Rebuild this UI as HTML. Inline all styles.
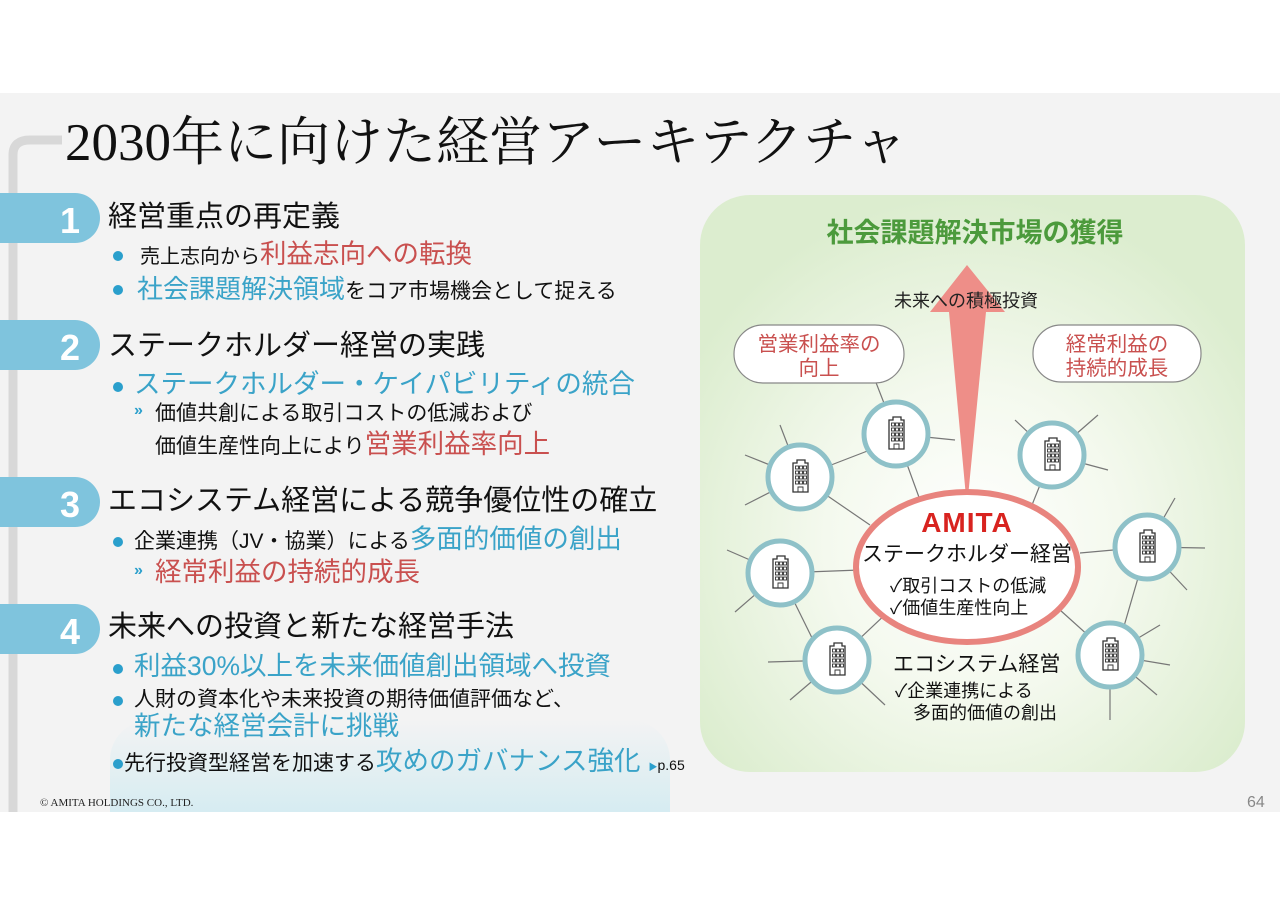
<!DOCTYPE html>
<html><head><meta charset="utf-8"><style>
body{margin:0;width:1280px;height:905px;background:#fff;position:relative;overflow:hidden;font-family:"Liberation Sans","Noto Sans CJK JP",sans-serif;}
.slide{position:absolute;left:0;top:93px;width:1280px;height:719px;background:#f3f3f3;}
.t{position:absolute;white-space:nowrap;line-height:1;}
.tab{position:absolute;left:0;width:100px;height:50px;background:#7fc4dd;border-radius:0 25px 25px 0;color:#fff;font-weight:bold;font-size:36px;}
.tab span{position:absolute;left:60px;top:7px;}
.h{font-size:29px;color:#111;left:108px;}
.dot{position:absolute;width:10px;height:10px;border-radius:50%;background:#2a9fcc;}
.b{color:#3aa3c8}.r{color:#c9504f}
.k{font-size:21px;color:#111}
.c{font-size:26.5px}
</style></head><body>
<div class="slide"></div>
<div style="position:absolute;left:110px;top:720px;width:560px;height:92px;background:linear-gradient(#f3f3f3,#d6ecf2);border-radius:40px 40px 0 0;"></div>
<svg style="position:absolute;left:0;top:0" width="120" height="812"><path d="M13 812 V155 Q13 140 30 140 H62" fill="none" stroke="#d8d8d8" stroke-width="9"/></svg>
<div class="t" style="left:65px;top:117px;font-size:53px;font-family:'Liberation Serif','Noto Serif CJK SC',serif;color:#111;">2030年に向けた経営アーキテクチャ</div>

<div class="tab" style="top:193px"><span>1</span></div>
<div class="tab" style="top:320px"><span>2</span></div>
<div class="tab" style="top:477px"><span>3</span></div>
<div class="tab" style="top:604px"><span>4</span></div>

<div class="t h" style="top:203px">経営重点の再定義</div>
<div class="dot" style="left:113px;top:251px"></div>
<div class="t" style="left:140px;top:241px"><span class="k" style="font-size:20px">売上志向から</span><span class="r c">利益志向への転換</span></div>
<div class="dot" style="left:113px;top:285px"></div>
<div class="t" style="left:137px;top:276px"><span class="b" style="font-size:26px">社会課題解決領域</span><span class="k">をコア市場機会として捉える</span></div>

<div class="t h" style="top:332px">ステークホルダー経営の実践</div>
<div class="dot" style="left:113px;top:382px"></div>
<div class="t b c" style="left:134px;top:371px">ステークホルダー・ケイパビリティの統合</div>
<div class="t" style="left:134px;top:403px;font-size:16px;color:#2a9fcc;font-weight:bold">»</div>
<div class="t k" style="left:155px;top:403px">価値共創による取引コストの低減および</div>
<div class="t" style="left:155px;top:431px"><span class="k">価値生産性向上により</span><span class="r c">営業利益率向上</span></div>

<div class="t h" style="top:487px">エコシステム経営による競争優位性の確立</div>
<div class="dot" style="left:113px;top:537px"></div>
<div class="t" style="left:134px;top:526px"><span class="k">企業連携（JV・協業）による</span><span class="b c">多面的価値の創出</span></div>
<div class="t" style="left:134px;top:563px;font-size:16px;color:#2a9fcc;font-weight:bold">»</div>
<div class="t r c" style="left:155px;top:559px">経常利益の持続的成長</div>

<div class="t h" style="top:613px">未来への投資と新たな経営手法</div>
<div class="dot" style="left:113px;top:664px"></div>
<div class="t b c" style="left:134px;top:653px">利益30%以上を未来価値創出領域へ投資</div>
<div class="dot" style="left:113px;top:696px"></div>
<div class="t k" style="left:134px;top:689px">人財の資本化や未来投資の期待価値評価など、</div>
<div class="t b c" style="left:134px;top:713px">新たな経営会計に挑戦</div>
<div class="dot" style="left:113px;top:759px"></div>
<div class="t" style="left:124px;top:748px"><span class="k">先行投資型経営を加速する</span><span class="b c">攻めのガバナンス強化</span><span style="font-size:9px;color:#2a9fcc;margin-left:8px">▶</span><span style="font-size:14px;color:#111">p.65</span></div>

<div class="t" style="left:40px;top:798px;font-size:11px;font-family:'Liberation Serif',serif;color:#222">© AMITA HOLDINGS CO., LTD.</div>
<div class="t" style="left:1247px;top:795px;font-size:16px;color:#888">64</div>

<svg style="position:absolute;left:0;top:0" width="1280" height="905" font-family="Liberation Sans,Noto Sans CJK JP,sans-serif">
<defs>
<radialGradient id="g" cx="0.5" cy="0.6" r="0.6"><stop offset="0" stop-color="#ffffff"/><stop offset="0.45" stop-color="#f4f9ee"/><stop offset="1" stop-color="#dcedcf"/></radialGradient>
<symbol id="bd" viewBox="0 0 20 34"><path d="M3 33V4h4V1h8v3h3v29H3z" fill="#fff" stroke="#333" stroke-width="1.3"/><g fill="none" stroke="#333" stroke-width="0.9"><rect x="5.5" y="7" width="3" height="3"/><rect x="9.5" y="7" width="3" height="3"/><rect x="13.5" y="7" width="3" height="3"/><rect x="5.5" y="12" width="3" height="3"/><rect x="9.5" y="12" width="3" height="3"/><rect x="13.5" y="12" width="3" height="3"/><rect x="5.5" y="17" width="3" height="3"/><rect x="9.5" y="17" width="3" height="3"/><rect x="13.5" y="17" width="3" height="3"/><rect x="5.5" y="22" width="3" height="3"/><rect x="9.5" y="22" width="3" height="3"/><rect x="13.5" y="22" width="3" height="3"/><path d="M8 33v-5h5v5"/></g></symbol>
</defs>
<rect x="700" y="195" width="545" height="577" rx="50" fill="url(#g)"/>
<text x="975" y="242" text-anchor="middle" font-size="27" font-weight="bold" fill="#4c9a3c">社会課題解決市場の獲得</text>
<g stroke="#777" stroke-width="1.2">
<line x1="896" y1="434" x2="875" y2="380"/><line x1="896" y1="434" x2="955" y2="440"/><line x1="896" y1="434" x2="920" y2="500"/>
<line x1="800" y1="477" x2="780" y2="425"/><line x1="800" y1="477" x2="745" y2="455"/><line x1="800" y1="477" x2="745" y2="505"/><line x1="800" y1="477" x2="870" y2="450"/><line x1="800" y1="477" x2="870" y2="525"/>
<line x1="1052" y1="455" x2="1015" y2="420"/><line x1="1052" y1="455" x2="1098" y2="415"/><line x1="1052" y1="455" x2="1108" y2="470"/><line x1="1052" y1="455" x2="1030" y2="510"/>
<line x1="780" y1="573" x2="727" y2="550"/><line x1="780" y1="573" x2="735" y2="612"/><line x1="780" y1="573" x2="860" y2="570"/><line x1="780" y1="573" x2="818" y2="650"/>
<line x1="1147" y1="547" x2="1175" y2="498"/><line x1="1147" y1="547" x2="1205" y2="548"/><line x1="1147" y1="547" x2="1187" y2="590"/><line x1="1147" y1="547" x2="1080" y2="553"/><line x1="1147" y1="547" x2="1120" y2="640"/>
<line x1="837" y1="660" x2="768" y2="662"/><line x1="837" y1="660" x2="790" y2="700"/><line x1="837" y1="660" x2="885" y2="705"/><line x1="837" y1="660" x2="890" y2="610"/>
<line x1="1110" y1="655" x2="1060" y2="610"/><line x1="1110" y1="655" x2="1160" y2="625"/><line x1="1110" y1="655" x2="1170" y2="665"/><line x1="1110" y1="655" x2="1157" y2="695"/><line x1="1110" y1="655" x2="1110" y2="720"/>
</g>
<path d="M967 265 L1005 312 L986 312 L968 497 L966 497 L949 312 L930 312 Z" fill="#ee8e88"/>
<text x="966" y="307" text-anchor="middle" font-size="18" fill="#222">未来への積極投資</text>
<rect x="734" y="325" width="170" height="58" rx="29" fill="#fff" stroke="#888" stroke-width="1.2"/>
<text x="819" y="351" text-anchor="middle" font-size="20.5" fill="#c9504f">営業利益率の</text>
<text x="819" y="375" text-anchor="middle" font-size="20.5" fill="#c9504f">向上</text>
<rect x="1033" y="325" width="168" height="57" rx="28" fill="#fff" stroke="#888" stroke-width="1.2"/>
<text x="1117" y="351" text-anchor="middle" font-size="20.5" fill="#c9504f">経常利益の</text>
<text x="1117" y="375" text-anchor="middle" font-size="20.5" fill="#c9504f">持続的成長</text>
<g fill="#fff" stroke="#8ec1c8" stroke-width="5">
<circle cx="896" cy="434" r="32"/><circle cx="800" cy="477" r="32"/><circle cx="1052" cy="455" r="32"/><circle cx="780" cy="573" r="32"/><circle cx="1147" cy="547" r="32"/><circle cx="837" cy="660" r="32"/><circle cx="1110" cy="655" r="32"/>
</g>
<use href="#bd" x="886" y="416" width="20" height="34"/><use href="#bd" x="790" y="459" width="20" height="34"/><use href="#bd" x="1042" y="437" width="20" height="34"/><use href="#bd" x="770" y="555" width="20" height="34"/><use href="#bd" x="1137" y="529" width="20" height="34"/><use href="#bd" x="827" y="642" width="20" height="34"/><use href="#bd" x="1100" y="637" width="20" height="34"/>
<ellipse cx="967" cy="567" rx="111" ry="75" fill="#fff" stroke="#e8847e" stroke-width="6"/>
<text x="967" y="532" text-anchor="middle" font-size="28" font-weight="bold" fill="#d8231f" letter-spacing="1">AMITA</text>
<text x="967" y="561" text-anchor="middle" font-size="21" fill="#111">ステークホルダー経営</text>
<text x="890" y="592" font-size="18" fill="#111">✓取引コストの低減</text>
<text x="890" y="614" font-size="18" fill="#111">✓価値生産性向上</text>
<text x="893" y="671" font-size="21" fill="#111">エコシステム経営</text>
<text x="895" y="697" font-size="18" fill="#111">✓企業連携による</text>
<text x="913" y="719" font-size="18" fill="#111">多面的価値の創出</text>
</svg>
</body></html>
